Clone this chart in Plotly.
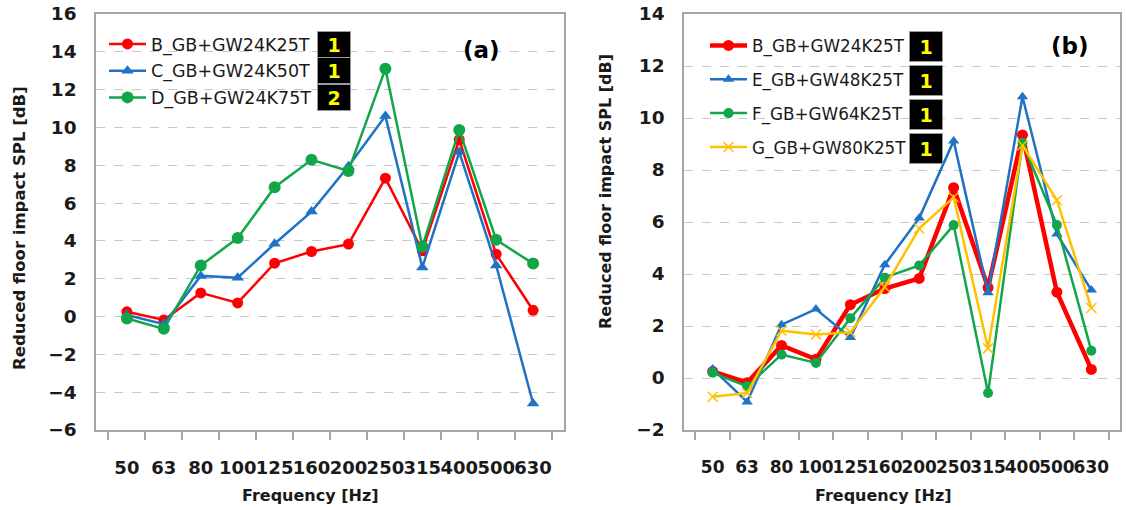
import plotly.graph_objects as go

freq = ["50", "63", "80", "100", "125", "160", "200", "250", "315", "400", "500", "630"]

# Panel (a)
B = [0.25, -0.18, 1.25, 0.72, 2.82, 3.44, 3.83, 7.32, 3.48, 9.35, 3.3, 0.33]
C = [0.08, -0.4, 2.15, 2.05, 3.85, 5.55, 7.95, 10.6, 2.6, 8.7, 2.7, -4.6]
D = [-0.1, -0.65, 2.7, 4.15, 6.84, 8.29, 7.7, 13.1, 3.7, 9.87, 4.06, 2.8]

# Panel (b)
E = [0.35, -0.92, 2.05, 2.65, 1.56, 4.36, 6.15, 9.12, 3.28, 10.82, 5.54, 3.38]
F = [0.2, -0.32, 0.9, 0.58, 2.3, 3.86, 4.33, 5.88, -0.58, 9.05, 5.88, 1.05]
G = [-0.72, -0.58, 1.82, 1.67, 1.76, 3.5, 5.75, 6.95, 1.14, 8.95, 6.84, 2.69]

names_a = ["B_GB+GW24K25T", "C_GB+GW24K50T", "D_GB+GW24K75T"]
names_b = ["B_GB+GW24K25T", "E_GB+GW48K25T", "F_GB+GW64K25T", "G_GB+GW80K25T"]
badges_a = ["1", "1", "2"]
badges_b = ["1", "1", "1", "1"]

RED = "#FF0000"
BLUE = "#1F72C4"
GREEN = "#12A64A"
YELLOW = "#FFC000"

W, H = 1126, 510
def px(x):
    return x / W
def py(y):
    return 1 - y / H

fig = go.Figure()

# panel (a)
fig.add_trace(go.Scatter(x=freq, y=B, name=names_a[0], mode="lines+markers",
                         line=dict(color=RED, width=2.5),
                         marker=dict(symbol="circle", size=11, color=RED),
                         xaxis="x", yaxis="y", legend="legend", legendgroup="a1"))
fig.add_trace(go.Scatter(x=freq, y=C, name=names_a[1], mode="lines+markers",
                         line=dict(color=BLUE, width=2.5),
                         marker=dict(symbol="triangle-up", size=11, color=BLUE),
                         xaxis="x", yaxis="y", legend="legend", legendgroup="a2"))
fig.add_trace(go.Scatter(x=freq, y=D, name=names_a[2], mode="lines+markers",
                         line=dict(color=GREEN, width=2.5),
                         marker=dict(symbol="circle", size=12, color=GREEN),
                         xaxis="x", yaxis="y", legend="legend", legendgroup="a3"))

# panel (b)
fig.add_trace(go.Scatter(x=freq, y=B, name=names_b[0], mode="lines+markers",
                         line=dict(color=RED, width=4.5),
                         marker=dict(symbol="circle", size=11, color=RED),
                         xaxis="x2", yaxis="y2", legend="legend2", legendgroup="b1"))
fig.add_trace(go.Scatter(x=freq, y=E, name=names_b[1], mode="lines+markers",
                         line=dict(color=BLUE, width=2.5),
                         marker=dict(symbol="triangle-up", size=10, color=BLUE),
                         xaxis="x2", yaxis="y2", legend="legend2", legendgroup="b2"))
fig.add_trace(go.Scatter(x=freq, y=F, name=names_b[2], mode="lines+markers",
                         line=dict(color=GREEN, width=2.5),
                         marker=dict(symbol="circle", size=10, color=GREEN),
                         xaxis="x2", yaxis="y2", legend="legend2", legendgroup="b3"))
fig.add_trace(go.Scatter(x=freq, y=G, name=names_b[3], mode="lines+markers",
                         line=dict(color=YELLOW, width=2.5),
                         marker=dict(symbol="x-thin", size=10, color=YELLOW,
                                     line=dict(color=YELLOW, width=1.5)),
                         xaxis="x2", yaxis="y2", legend="legend2", legendgroup="b4"))

GRAYLINE = "#A6A6A6"

def xaxis_def(domain, anchor, fsize):
    return dict(domain=domain, anchor=anchor, type="category",
                categoryorder="array", categoryarray=freq,
                showgrid=False, zeroline=False,
                showline=True, linecolor=GRAYLINE, linewidth=1.5, mirror=True,
                ticks="outside", ticklen=8, tickwidth=1.5, tickcolor=GRAYLINE,
                tickson="boundaries", tickangle=0,
                tickfont=dict(family="DejaVu Sans", size=fsize, color="#1a1a1a", weight="bold"),
                ticklabelstandoff=21, ticklabeloverflow="allow")

def yaxis_def(domain, anchor, rng):
    return dict(domain=domain, anchor=anchor, range=rng, dtick=2, tick0=0,
                showgrid=True, gridcolor="#C8C8C8", griddash="dash", gridwidth=1,
                zeroline=False, showline=True, linecolor=GRAYLINE, linewidth=1.5,
                mirror=True, ticks="",
                tickfont=dict(family="DejaVu Sans", size=18.5, color="#1a1a1a", weight="bold"),
                ticklabelstandoff=14, ticklabeloverflow="allow")

ydom = [py(430), py(14)]

fig.update_layout(
    width=W, height=H,
    margin=dict(l=0, r=0, t=0, b=0, autoexpand=False),
    paper_bgcolor="white", plot_bgcolor="white",
    xaxis=xaxis_def([px(96), px(564)], "y", 18),
    yaxis=yaxis_def(ydom, "x", [-6, 16]),
    xaxis2=xaxis_def([px(684), px(1120)], "y2", 17),
    yaxis2=yaxis_def(ydom, "x2", [-2, 14]),
    legend=dict(x=px(104), y=py(26), xanchor="left", yanchor="top",
                bgcolor="rgba(255,255,255,0)", borderwidth=0,
                font=dict(family="DejaVu Sans", size=17.5, color="#1a1a1a"),
                itemwidth=37, tracegroupgap=1, traceorder="grouped"),
    legend2=dict(x=px(705), y=py(28), xanchor="left", yanchor="top",
                 bgcolor="rgba(255,255,255,0)", borderwidth=0,
                 font=dict(family="DejaVu Sans", size=16.8, color="#1a1a1a"),
                 itemwidth=37, tracegroupgap=9, traceorder="grouped"),
    showlegend=True,
)

annotations = []
titlefont = dict(family="DejaVu Sans", size=16, color="#1a1a1a", weight="bold")

def ann(text, x, y, font, **kw):
    d = dict(text=text, xref="paper", yref="paper", x=px(x), y=py(y),
             xanchor="center", yanchor="middle", showarrow=False, font=font)
    d.update(kw)
    return d

annotations.append(ann("Reduced floor impact SPL [dB]", 20, 228,
                       dict(family="DejaVu Sans", size=16.5, color="#1a1a1a", weight="bold"),
                       textangle=-90))
annotations.append(ann("Reduced floor impact SPL [dB]", 605, 192, titlefont, textangle=-90))
annotations.append(ann("Frequency [Hz]", 310, 495, titlefont))
annotations.append(ann("Frequency [Hz]", 883, 495, titlefont))
annotations.append(ann("(a)", 481, 50, dict(family="DejaVu Sans", size=23, color="#000", weight="bold")))
annotations.append(ann("(b)", 1070, 46, dict(family="DejaVu Sans", size=23, color="#000", weight="bold")))

badgefont = dict(family="DejaVu Sans", size=19, color="#FFFF00", weight="bold")
for i, t in enumerate(badges_a):
    annotations.append(ann(t, 334, 44 + 26.5 * i, badgefont, bgcolor="#000000",
                           bordercolor="#9a9a9a", borderwidth=1, width=30, height=23))
for i, t in enumerate(badges_b):
    annotations.append(ann(t, 926, 46 + 34.3 * i, badgefont, bgcolor="#000000",
                           bordercolor="#9a9a9a", borderwidth=1, width=30, height=27))

fig.update_layout(annotations=annotations)

# remove the page's default 8px body margin so the figure fills the window exactly
fig.write_html("out.html",
               config={"displayModeBar": False},
               post_script="document.body.style.margin='0px';document.body.style.overflow='hidden';")
